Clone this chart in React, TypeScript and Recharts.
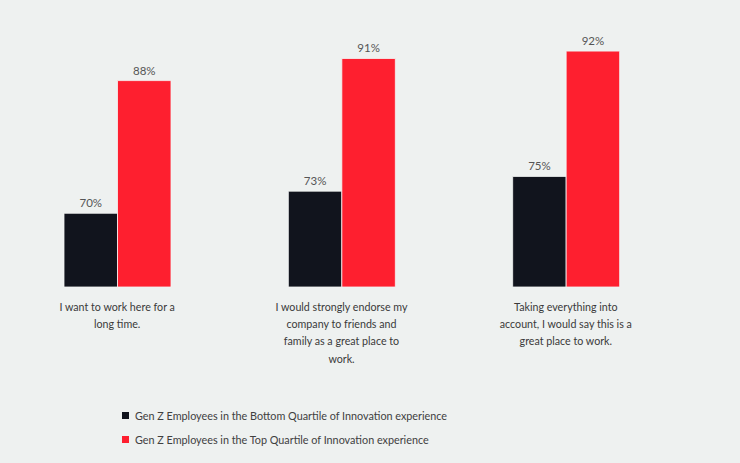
import React from 'react';
import { BarChart, Bar, XAxis, YAxis, LabelList, Legend } from 'recharts';

const categories = [
  'I want to work here for a\nlong time.',
  'I would strongly endorse my\ncompany to friends and\nfamily as a great place to\nwork.',
  'Taking everything into\naccount, I would say this is a\ngreat place to work.',
];
const bottomQuartile = [70, 73, 75];
const topQuartile = [88, 91, 92];
const seriesNames = [
  'Gen Z Employees in the Bottom Quartile of Innovation experience',
  'Gen Z Employees in the Top Quartile of Innovation experience',
];

const data = categories.map((name, i) => ({
  name,
  bottom: bottomQuartile[i],
  top: topQuartile[i],
}));

const FONT = 'Lato, "Open Sans", sans-serif';
const DARK = '#11141d';
const RED = '#fe1f2f';

const CategoryTick = (props: any) => {
  const { x, y, payload } = props;
  const lines = String(payload.value).split('\n');
  return (
    <text x={x} y={y} textAnchor="middle" fill="#3a3a3a" fontSize={10.7} fontFamily={FONT}>
      {lines.map((l, i) => (
        <tspan key={i} x={x} dy={i === 0 ? 16 : 17.2}>
          {l}
        </tspan>
      ))}
    </text>
  );
};

const LegendContent = (props: any) => {
  const { payload } = props;
  return (
    <div style={{ fontFamily: FONT, fontSize: 10.8, color: '#404040' }}>
      {(payload || []).map((p: any, i: number) => (
        <div key={i} style={{ display: 'flex', alignItems: 'center', height: 23.7 }}>
          <span style={{ display: 'inline-block', width: 7, height: 7, background: p.color, marginRight: 6 }} />
          <span>{p.value}</span>
        </div>
      ))}
    </div>
  );
};

export default function App() {
  return (
    <div style={{ position: 'absolute', left: 0, top: 0, width: 740, height: 463, background: '#eef1f0' }}>
      <BarChart
        width={740}
        height={463}
        data={data}
        margin={{ top: 29, right: 62, left: 5, bottom: 146 }}
        barGap={0}
        barSize={53.5}
      >
        <XAxis dataKey="name" axisLine={false} tickLine={false} interval={0} height={30} tick={<CategoryTick />} />
        <YAxis hide domain={[60, 95]} />
        <Legend
          layout="vertical"
          align="center"
          verticalAlign="middle"
          wrapperStyle={{ left: 122, top: 404, width: 400 }}
          content={<LegendContent />}
        />
        <Bar dataKey="bottom" name={seriesNames[0]} fill={DARK} stroke="#f4f6f5" strokeWidth={0.8} isAnimationActive={false}>
          <LabelList dataKey="bottom" position="top" offset={6} formatter={(v: any) => `${v}%`} fill="#555" fontSize={11.5} fontFamily={FONT} />
        </Bar>
        <Bar dataKey="top" name={seriesNames[1]} fill={RED} stroke="#f4f6f5" strokeWidth={0.8} isAnimationActive={false}>
          <LabelList dataKey="top" position="top" offset={6} formatter={(v: any) => `${v}%`} fill="#555" fontSize={11.5} fontFamily={FONT} />
        </Bar>
      </BarChart>
    </div>
  );
}
